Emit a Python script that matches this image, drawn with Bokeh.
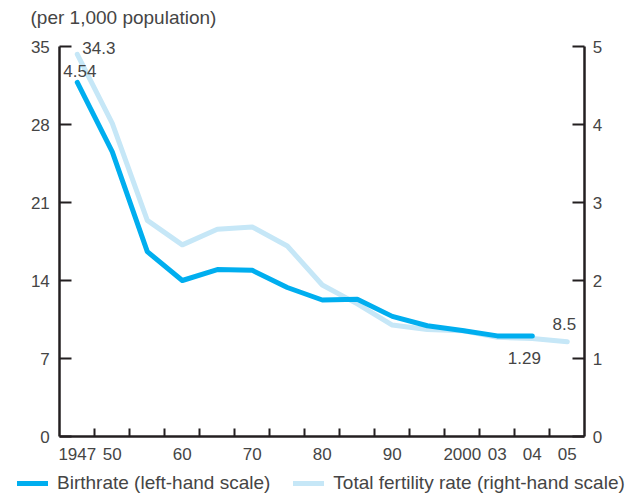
from bokeh.plotting import figure
from bokeh.models import (Range1d, LinearAxis, FixedTicker, Legend, LegendItem,
                          ColumnDataSource, Label)
from bokeh.embed import file_html
from bokeh.resources import INLINE
from bokeh.core.properties import value

# ---- data ----
years = ["1947", "50", "55", "60", "65", "70", "75", "80", "85", "90", "95", "2000", "03", "04", "05"]
tick_labels = ["1947", "50", "", "60", "", "70", "", "80", "", "90", "", "2000", "03", "04", "05"]
birthrate = [34.3, 28.1, 19.4, 17.2, 18.6, 18.8, 17.1, 13.6, 11.9, 10.0, 9.6, 9.5, 8.9, 8.8, 8.5]
tfr = [4.54, 3.65, 2.37, 2.00, 2.14, 2.13, 1.91, 1.75, 1.76, 1.54, 1.42, 1.36, 1.29, 1.29]
left_ticks = [0, 7, 14, 21, 28, 35]
right_ticks = [0, 1, 2, 3, 4, 5]
LEFT_MAX, RIGHT_MAX = 35, 5

FONT = "Liberation Sans"
TXT = "#454545"
AX = "#231f20"
DARK = "#00aeef"
LIGHT = "#c6e7f7"

W, H = 626, 494
# plot-area geometry in pixels (frame covers whole canvas; axes drawn at fixed data locations)
AX_LEFT, AX_RIGHT, AX_TOP, AX_BOTTOM = 59.3, 584.3, 46.0, 436.0

xs = list(range(len(years)))
n = len(years)
slot = (AX_RIGHT - AX_LEFT) / n
x0 = -0.5 - AX_LEFT / slot
x1 = -0.5 + (W - AX_LEFT) / slot
ppu_l = (AX_BOTTOM - AX_TOP) / LEFT_MAX
ppu_r = (AX_BOTTOM - AX_TOP) / RIGHT_MAX

p = figure(width=W, height=H,
           x_range=Range1d(x0, x1),
           y_range=Range1d(-(H - AX_BOTTOM) / ppu_l, AX_BOTTOM / ppu_l),
           output_backend="svg", toolbar_location=None,
           min_border=0, min_border_left=0, min_border_right=0,
           min_border_top=0, min_border_bottom=0)
p.extra_y_ranges = {"tfr": Range1d(-(H - AX_BOTTOM) / ppu_r, AX_BOTTOM / ppu_r)}
p.title.visible = False
p.xgrid.visible = False
p.ygrid.visible = False
p.outline_line_color = None
p.background_fill_color = "white"
p.border_fill_color = "white"

# x axis
xa = p.xaxis[0]
xa.fixed_location = 0
xa.bounds = (-0.5, n - 0.5)
xa.ticker = FixedTicker(ticks=xs, minor_ticks=[i + 0.5 for i in xs[:-1]])
xa.major_label_overrides = {i: lbl for i, lbl in zip(xs, tick_labels)}
xa.major_tick_line_color = None
xa.major_tick_in = 0
xa.major_tick_out = 0
xa.minor_tick_in = 8
xa.minor_tick_out = 0
xa.minor_tick_line_width = 2
xa.minor_tick_line_color = AX
xa.axis_line_width = 2.5
xa.axis_line_color = AX
xa.major_label_standoff = 11
xa.major_label_text_font = FONT
xa.major_label_text_font_size = "17px"
xa.major_label_text_color = TXT

# left axis
ya = p.yaxis[0]
ya.fixed_location = -0.5
ya.ticker = FixedTicker(ticks=left_ticks)
ya.bounds = (0, LEFT_MAX)
ya.major_tick_in = 12
ya.major_tick_out = 0
ya.major_tick_line_width = 2
ya.major_tick_line_color = AX
ya.minor_tick_line_color = None
ya.axis_line_width = 2.5
ya.axis_line_color = AX
ya.major_label_standoff = 10
ya.major_label_text_font = FONT
ya.major_label_text_font_size = "17px"
ya.major_label_text_color = TXT

# right axis
ra = LinearAxis(y_range_name="tfr", ticker=FixedTicker(ticks=right_ticks),
                bounds=(0, RIGHT_MAX), fixed_location=n - 0.5)
ra.major_tick_in = 12
ra.major_tick_out = 0
ra.major_tick_line_width = 2
ra.major_tick_line_color = AX
ra.minor_tick_line_color = None
ra.axis_line_width = 2.5
ra.axis_line_color = AX
ra.major_label_standoff = 8
ra.major_label_text_font = FONT
ra.major_label_text_font_size = "17px"
ra.major_label_text_color = TXT
p.add_layout(ra, "right")

# lines
light = p.line(xs, birthrate, line_width=5, line_color=LIGHT,
               line_join="round", line_cap="round")
dark = p.line(xs[:len(tfr)], tfr, y_range_name="tfr", line_width=5, line_color=DARK,
              line_join="round", line_cap="round")

# value labels
br_idx = [0, len(birthrate) - 1]
br_src = ColumnDataSource(dict(
    x=[xs[i] for i in br_idx],
    y=[birthrate[i] for i in br_idx],
    t=[f"{birthrate[i]}" for i in br_idx],
    xo=[5, -3], yo=[-6, -18], al=["left", "center"]))
p.text(x="x", y="y", text="t", x_offset="xo", y_offset="yo", text_align="al",
       text_baseline="middle", text_font=value(FONT), text_font_size="17px",
       text_color=TXT, source=br_src)

tf_idx = [0, len(tfr) - 1]
tf_src = ColumnDataSource(dict(
    x=[xs[i] for i in tf_idx],
    y=[tfr[i] for i in tf_idx],
    t=[f"{tfr[i]}" for i in tf_idx],
    xo=[-14, -8], yo=[-11, 22], al=["left", "center"]))
p.text(x="x", y="y", text="t", x_offset="xo", y_offset="yo", text_align="al",
       text_baseline="middle", text_font=value(FONT), text_font_size="17px",
       text_color=TXT, source=tf_src, y_range_name="tfr")

# title
p.add_layout(Label(x=30, y=H - 17, x_units="screen", y_units="screen",
                   text="(per 1,000 population)", text_baseline="middle",
                   text_font=FONT, text_font_size="19px", text_color=TXT))

# legend
legend = Legend(items=[
    LegendItem(label="Birthrate (left-hand scale)", renderers=[dark]),
    LegendItem(label="Total fertility rate (right-hand scale)", renderers=[light]),
], orientation="horizontal", location=(17, 0),
    glyph_width=31, glyph_height=20, label_height=20, label_standoff=9,
    spacing=23, padding=0, margin=0,
    border_line_color=None, background_fill_alpha=0,
    label_text_font=FONT, label_text_font_size="19px", label_text_color=TXT)
p.add_layout(legend)

open("out.html", "w").write(file_html(p, INLINE))
